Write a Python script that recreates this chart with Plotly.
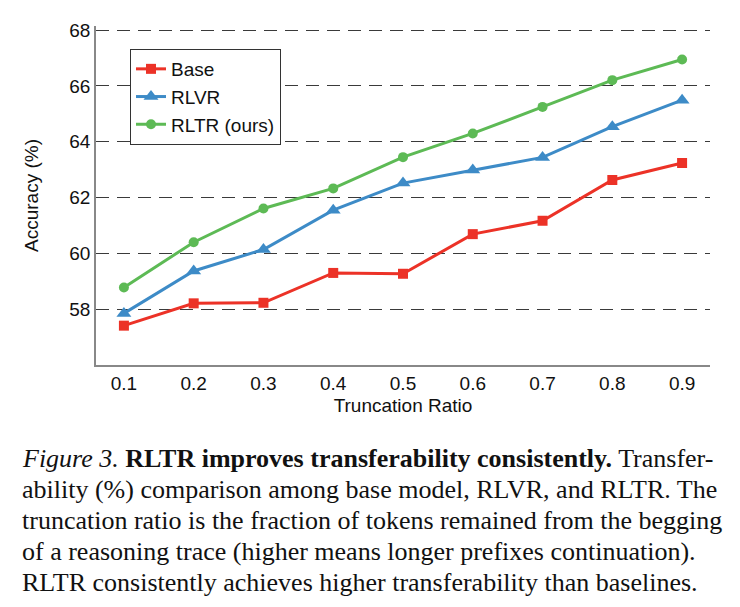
import plotly.graph_objects as go

ratios = [0.1, 0.2, 0.3, 0.4, 0.5, 0.6, 0.7, 0.8, 0.9]
base = [57.41, 58.21, 58.23, 59.30, 59.27, 60.69, 61.17, 62.63, 63.24]
rlvr = [57.85, 59.37, 60.14, 61.55, 62.52, 62.99, 63.44, 64.54, 65.49]
rltr = [58.78, 60.40, 61.61, 62.33, 63.45, 64.30, 65.25, 66.21, 66.95]
x_ticks = ["0.1", "0.2", "0.3", "0.4", "0.5", "0.6", "0.7", "0.8", "0.9"]
y_ticks = [58, 60, 62, 64, 66, 68]

caption_lines = [
    "<i>Figure 3.</i> <b>RLTR improves transferability consistently.</b> Transfer-",
    "ability (%) comparison among base model, RLVR, and RLTR. The",
    "truncation ratio is the fraction of tokens remained from the begging",
    "of a reasoning trace (higher means longer prefixes continuation).",
    "RLTR consistently achieves higher transferability than baselines.",
]

RED = "#EC3227"
BLUE = "#3D8BC7"
GREEN = "#5DBA55"

fig = go.Figure()
fig.add_trace(go.Scatter(x=ratios, y=base, name="Base", mode="lines+markers",
                         line=dict(color=RED, width=3),
                         marker=dict(symbol="square", size=10, color=RED)))
fig.add_trace(go.Scatter(x=ratios, y=rlvr, name="RLVR", mode="lines+markers",
                         line=dict(color=BLUE, width=3),
                         marker=dict(symbol="triangle-up", size=13, color=BLUE)))
fig.add_trace(go.Scatter(x=ratios, y=rltr, name="RLTR (ours)", mode="lines+markers",
                         line=dict(color=GREEN, width=3),
                         marker=dict(symbol="circle", size=10, color=GREEN)))

W, H = 740, 607
L, R, T, B = 96, 30, 26, 242
plot_h = H - T - B

font_family = "Liberation Sans, Arial, sans-serif"
FS = 19

fig.update_layout(
    width=W, height=H,
    margin=dict(l=L, r=R, t=T, b=B),
    paper_bgcolor="white", plot_bgcolor="white",
    font=dict(family=font_family, size=FS, color="#111"),
    showlegend=True,
    legend=dict(x=(130 - L) / (W - L - R), y=(H - B - 49) / plot_h,
                xanchor="left", yanchor="top",
                bgcolor="white", bordercolor="#333", borderwidth=1,
                font=dict(size=FS, family=font_family), itemwidth=30,
                tracegroupgap=0),
    xaxis=dict(range=[0.06, 0.94], tickvals=ratios, ticktext=x_ticks,
               showgrid=False, zeroline=False, showline=True,
               linecolor="#888", linewidth=1.5, ticks="", ticklen=0,
               tickfont=dict(size=FS, family=font_family),
               title=dict(text="Truncation Ratio", font=dict(size=FS), standoff=6)),
    yaxis=dict(range=[56, 68.15], tickvals=y_ticks,
               showgrid=True, gridcolor="#3a3a3a", gridwidth=1, griddash="13px,8px",
               zeroline=False, showline=True, linecolor="#888", linewidth=1.5,
               ticks="", tickfont=dict(size=FS, family=font_family),
               title=dict(text="Accuracy (%)", font=dict(size=FS), standoff=26)),
)

for i, line in enumerate(caption_lines):
    py = 458 + i * 31
    fig.add_annotation(text=line, xref="paper", yref="paper",
                       x=(20 - L) / (W - L - R), y=(H - B - py) / plot_h,
                       xanchor="left", yanchor="middle", showarrow=False,
                       font=dict(family="Liberation Serif, Times New Roman, serif",
                                 size=26, color="#111"))

fig.write_html("out.html")
